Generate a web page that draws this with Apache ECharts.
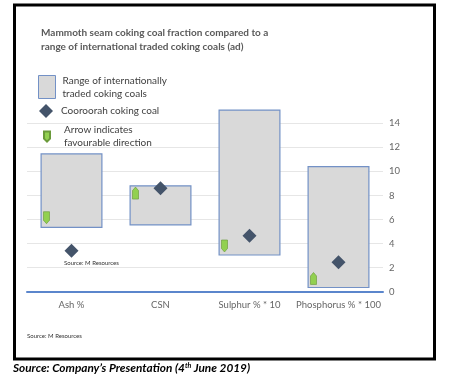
<!DOCTYPE html>
<html>
<head>
<meta charset="utf-8">
<script src="https://cdn.jsdelivr.net/npm/echarts@6/dist/echarts.min.js"></script>
<style>
html,body{margin:0;padding:0;background:#fff;}
#c{width:457px;height:382px;}
</style>
</head>
<body>
<div id="c"></div>
<script>
var categories = ['Ash %', 'CSN', 'Sulphur % * 10', 'Phosphorus % * 100'];
var rangeLow = [5.3, 5.5, 3.0, 0.3];
var rangeHigh = [11.5, 8.85, 15.15, 10.45];
var cooroorah = [3.4, 8.6, 4.65, 2.45];
var arrowValue = [6.15, 8.2, 3.8, 1.1];
var arrowDirection = ['down', 'up', 'down', 'up'];
var yTicks = [0, 2, 4, 6, 8, 10, 12, 14];

var ARROW_DOWN = 'path://M0,0 L10,0 L10,12 L5,17 L0,12 Z';
var ARROW_UP = 'path://M0,5 L5,0 L10,5 L10,17 L0,17 Z';
var FONT = 'Lato';

var chart = echarts.init(document.getElementById('c'), null, {renderer: 'canvas'});

var rangeSpan = rangeHigh.map(function (h, i) { return +(h - rangeLow[i]).toFixed(3); });
var arrowData = arrowValue.map(function (v, i) {
  return { value: v, symbol: arrowDirection[i] === 'up' ? ARROW_UP : ARROW_DOWN };
});

var option = {
  backgroundColor: '#ffffff',
  animation: false,
  textStyle: { fontFamily: FONT },
  title: {
    text: 'Mammoth seam coking coal fraction compared to a\nrange of international traded coking coals (ad)',
    left: 36, top: 21,
    textStyle: { fontFamily: FONT, fontSize: 10, fontWeight: 'bold', color: '#5a5a5a', lineHeight: 14 }
  },
  legend: [
    {
      data: [{ name: 'Range of internationally\ntraded coking coals', icon: 'rect',
               itemStyle: { color: '#D9D9D9', borderColor: '#7391C6', borderWidth: 1 } }],
      left: 38, top: 74, itemWidth: 17, itemHeight: 23, itemGap: 0, padding: 0,
      selectedMode: false,
      textStyle: { fontFamily: FONT, fontSize: 10, color: '#404040', lineHeight: 13, padding: [0, 0, 0, 2] }
    },
    {
      data: ['Cooroorah coking coal'],
      left: 39, top: 104, itemWidth: 14, itemHeight: 14, itemGap: 0, padding: 0,
      selectedMode: false,
      textStyle: { fontFamily: FONT, fontSize: 10, color: '#404040', padding: [0, 0, 0, 3] }
    },
    {
      data: ['Arrow indicates\nfavourable direction'],
      left: 43, top: 124, itemWidth: 6, itemHeight: 12, itemGap: 0, padding: 0,
      selectedMode: false,
      textStyle: { fontFamily: FONT, fontSize: 10, color: '#404040', lineHeight: 12.5, padding: [0, 0, 0, 9] }
    }
  ],
  grid: { left: 27, right: 74, top: 123.3, bottom: 90.3 },
  xAxis: {
    type: 'category',
    data: categories,
    axisLine: { lineStyle: { color: '#5B86CC', width: 2 } },
    axisTick: { show: false },
    axisLabel: { interval: 0, fontFamily: FONT, fontSize: 9.5, color: '#666666', margin: 8 },
    splitLine: { show: false }
  },
  yAxis: {
    type: 'value',
    position: 'right',
    min: 0, max: 14, interval: 2,
    axisLine: { show: false },
    axisTick: { show: false },
    axisLabel: {
      fontFamily: FONT, fontSize: 9.5, color: '#666666', margin: 6,
      formatter: function (v) { return yTicks.indexOf(v) >= 0 ? String(v) : ''; }
    },
    splitLine: { lineStyle: { color: '#E6E6E6', width: 1 } }
  },
  series: [
    {
      name: 'base', type: 'bar', stack: 'range', data: rangeLow,
      barWidth: 62, itemStyle: { color: 'rgba(0,0,0,0)' }, silent: true, clip: false
    },
    {
      name: 'Range of internationally\ntraded coking coals', type: 'bar', stack: 'range', data: rangeSpan,
      barWidth: 62, clip: false,
      itemStyle: { color: '#D9D9D9', borderColor: '#7391C6', borderWidth: 1.2 }
    },
    {
      name: 'Cooroorah coking coal', type: 'scatter', data: cooroorah,
      symbol: 'diamond', symbolSize: 14, clip: false, z: 5,
      itemStyle: { color: '#44546A', opacity: 1 }
    },
    {
      name: 'Arrow indicates\nfavourable direction', type: 'scatter', data: arrowData,
      symbol: ARROW_DOWN, symbolSize: [6, 12], symbolOffset: [-25, 0], clip: false, z: 6,
      itemStyle: { color: '#92D050', borderColor: '#6A9A3A', borderWidth: 0.6, opacity: 1 }
    }
  ],
  graphic: [
    { type: 'text', left: 64, top: 260,
      style: { text: 'Source: M Resources', fontFamily: FONT, fontSize: 6, fill: '#333333' } },
    { type: 'text', left: 27, top: 333,
      style: { text: 'Source: M Resources', fontFamily: FONT, fontSize: 6, fill: '#333333' } },
    { type: 'rect', shape: { x: 14.5, y: 5, width: 420, height: 354 },
      style: { fill: 'none', stroke: '#000000', lineWidth: 3 }, z: 100 },
    { type: 'text', left: 13, top: 362,
      style: {
        text: '{a|Source: Company\u2019s Presentation (4}{s|th}{a| June 2019)}',
        rich: {
          a: { fontFamily: FONT, fontSize: 11.8, fontWeight: 'bold', fontStyle: 'italic', fill: '#000' },
          s: { fontFamily: FONT, fontSize: 7, fontWeight: 'bold', fontStyle: 'italic', fill: '#000', verticalAlign: 'top', padding: [0, 0, 4, 0] }
        }
      } }
  ]
};
chart.setOption(option);
</script>
</body>
</html>
